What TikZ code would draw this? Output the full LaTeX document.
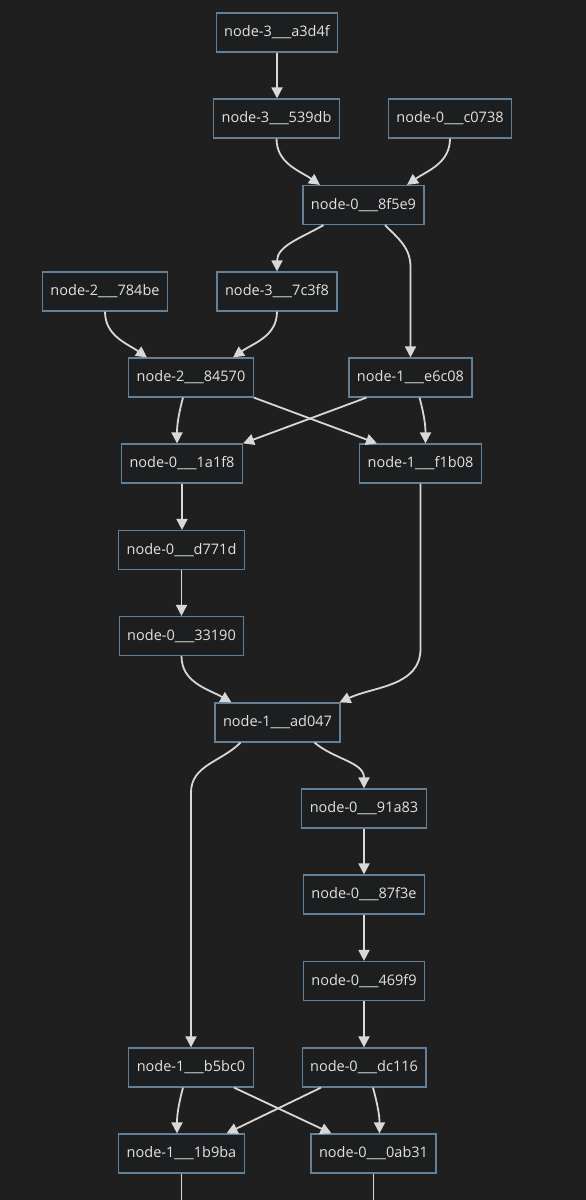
\documentclass[tikz,border=0pt]{standalone}
\usepackage{fontspec}
\setmainfont{Open Sans}
\usetikzlibrary{arrows.meta}
\definecolor{bgdark}{RGB}{31,31,31}
\definecolor{boxline}{RGB}{98,128,152}
\definecolor{boxfill}{RGB}{29,30,31}
\definecolor{linkgray}{RGB}{216,216,216}
\definecolor{labelgray}{RGB}{226,226,226}
\tikzset{%
  every box/.style={
    rectangle,
    draw=boxline,
    fill=boxfill,
    line width=1.2pt,
    text=labelgray,
    font=\fontsize{14.5}{17}\selectfont,
    inner xsep=8pt,
    minimum height=39pt
  },
  link/.style={
    draw=linkgray,
    line width=1.8pt
  },
}

\begin{document}
\begin{tikzpicture}[x=1pt, y=1pt, >={Triangle[length=11pt,width=11pt]}]
\fill [bgdark] (0,0) rectangle (586,-1200);
\useasboundingbox (0,0) rectangle (586,-1200);

\foreach \k/\h/\x/\y in {3/a3d4f/277/32.5, 3/539db/276.5/118.5, 0/c0738/450/118.5,
    0/8f5e9/363.5/205, 2/784be/105/291.5, 3/7c3f8/277/291.5, 2/84570/191/377.5,
    1/e6c08/410.5/377.5, 0/1a1f8/182/463.5, 1/f1b08/420.5/463.5, 0/d771d/181.5/550,
    0/33190/181.5/636, 1/ad047/277.5/722.5, 0/91a83/364/808.5, 0/87f3e/364/894.5,
    0/469f9/364/981, 1/b5bc0/191/1067.5, 0/dc116/364/1067.5, 1/1b9ba/181.5/1153.5,
    0/0ab31/373.5/1153.5}
  \node [every box/.try] (n-\h) at (\x,-\y) {node-\k\_\_\_\h};

\coordinate (below-1b9ba) at (181.5,-1200);
\coordinate (below-0ab31) at (373.5,-1200);

% straight chains
\foreach \a/\b in {a3d4f/539db, 1a1f8/d771d, d771d/33190, 91a83/87f3e, 87f3e/469f9, 469f9/dc116}
  \draw [link, ->] (n-\a.south) -- (n-\a.south |- n-\b.north);

% top part
\draw [link, ->] (n-539db.south) to [out=-90, in=145] ([xshift=-43.5pt]n-8f5e9.north);
\draw [link, ->] (n-c0738.south) to [out=-90, in=35] ([xshift=43.5pt]n-8f5e9.north);
\draw [link, ->] ([xshift=-40pt]n-8f5e9.south) to [out=-150, in=90] (n-7c3f8.north);
\draw [link, ->] ([xshift=21.5pt]n-8f5e9.south) to [out=-45, in=90] ++(25.5,-42)
  -- (n-e6c08.north);
\draw [link, ->] (n-784be.south) to [out=-90, in=145] ([xshift=-44pt]n-84570.north);
\draw [link, ->] (n-7c3f8.south) to [out=-90, in=35] ([xshift=42pt]n-84570.north);

% first crossing
\draw [link, ->] ([xshift=-8pt]n-84570.south) to [out=-105, in=90] ([xshift=-5pt]n-1a1f8.north);
\draw [link, ->] (n-84570.south east) -- ([xshift=-43.5pt]n-f1b08.north);
\draw [link, ->] ([xshift=-44pt]n-e6c08.south) -- (n-1a1f8.north east);
\draw [link, ->] ([xshift=9pt]n-e6c08.south) to [out=-75, in=90] ([xshift=5pt]n-f1b08.north);

% merge into ad047
\draw [link, ->] (n-33190.south) to [out=-90, in=150] ([xshift=-46pt]n-ad047.north);
\draw [link, ->] (n-f1b08.south) -- ++(0,-165) to [out=-90, in=25] ([xshift=62pt]n-ad047.north);

% split from ad047
\draw [link, ->] ([xshift=-37pt]n-ad047.south) to [out=-135, in=90] ++(-49.5,-50)
  -- (n-b5bc0.north);
\draw [link, ->] ([xshift=37pt]n-ad047.south) to [out=-40, in=90] (n-91a83.north);

% second crossing
\draw [link, ->] ([xshift=-8pt]n-b5bc0.south) to [out=-105, in=90] ([xshift=-4.5pt]n-1b9ba.north);
\draw [link, ->] ([xshift=43pt]n-b5bc0.south) -- ([xshift=-42pt]n-0ab31.north);
\draw [link, ->] ([xshift=-43pt]n-dc116.south) -- ([xshift=45pt]n-1b9ba.north);
\draw [link, ->] ([xshift=9pt]n-dc116.south) to [out=-75, in=90] ([xshift=6pt]n-0ab31.north);

% leaving the page
\draw [link] (n-1b9ba.south) -- (below-1b9ba);
\draw [link] (n-0ab31.south) -- (below-0ab31);
\end{tikzpicture}
\end{document}
